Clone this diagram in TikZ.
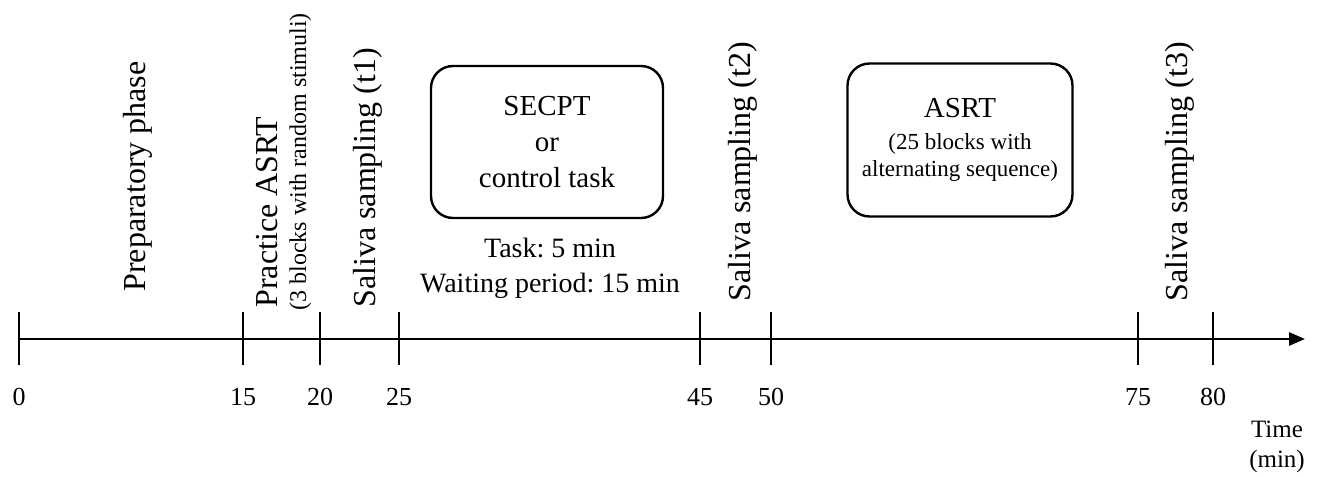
\documentclass[tikz,border=0pt]{standalone}
\usepackage{fontspec}
\setmainfont{Liberation Serif}
\frenchspacing
\usetikzlibrary{arrows.meta, positioning}

\newcommand{\subfont}{\fontsize{11.5}{14}\selectfont}

\begin{document}
\begin{tikzpicture}[>={Triangle[length=8pt, width=6.5pt]}, x=0.5pt, y=-0.5pt, line join=round,
    phase/.style={rotate=90, anchor=base west, inner sep=0pt, font=\fontsize{16}{19}\selectfont},
    taskbox/.style={draw, line width=1.2pt, rounded corners=11pt, align=center, inner sep=0pt},
    ticklbl/.style={inner sep=0pt, font=\fontsize{13}{15}\selectfont}]

    \useasboundingbox (0,0) rectangle (1342,476);

    % 时间轴
    \coordinate (t0) at (19,339);
    \coordinate (tip) at (1305,339);
    \draw[->, line width=1.4pt] (t0) -- (tip);

    % 刻度与刻度值
    \foreach \t/\x in {0/19, 15/243, 20/320, 25/399, 45/700, 50/771, 75/1138, 80/1213} {
        \draw[line width=1pt] (\x,312) -- (\x,365);
        \node[ticklbl] (lbl\t) at (\x,397) {\t};
    }

    % 坐标轴单位
    \node[align=center, inner sep=0pt, font=\fontsize{12.5}{15}\selectfont] (unit) at (1277,447) {Time\\(min)};

    % 竖排的各阶段名称
    \node[phase] (prep) at (145,292) {Preparatory phase};
    \node[phase] (practice) at (277,308) {Practice ASRT};
    \node[phase, font=\fontsize{12}{14}\selectfont] (practicesub) at (306,311) {(3 blocks with random stimuli)};
    \node[phase] (saliva1) at (375,308) {Saliva sampling (t1)};
    \node[phase] (saliva2) at (750,302) {Saliva sampling (t2)};
    \node[phase] (saliva3) at (1187,302) {Saliva sampling (t3)};

    % 任务框
    \node[taskbox, minimum width=116pt, minimum height=76pt, font=\fontsize{14.5}{18}\selectfont] (secpt) at (547,142)
        {SECPT\\or\\control task};
    \node[taskbox, minimum width=112.5pt, minimum height=76.5pt, font=\fontsize{14.5}{17}\selectfont] (asrt) at (960,140)
        {ASRT\\[-1pt]\subfont (25 blocks with\\[-3.5pt]\subfont alternating sequence)};

    % 任务时长说明
    \node[align=center, inner sep=0pt, font=\fontsize{14}{17.5}\selectfont] (duration) at (550,268)
        {Task: 5 min\\Waiting period: 15 min};

\end{tikzpicture}
\end{document}
